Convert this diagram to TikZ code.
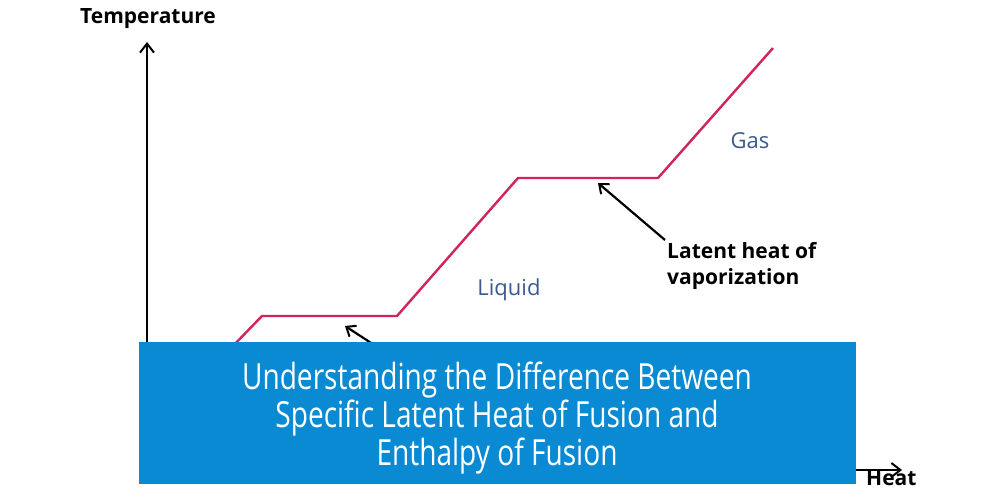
\documentclass[tikz,border=0pt]{standalone}
\usepackage{fontspec}
\setmainfont{Open Sans}
\newfontfamily\bannerfont[FakeStretch=0.78]{Open Sans}
\usetikzlibrary{arrows.meta}
\definecolor{curve}{HTML}{D0245A}
\definecolor{banner}{HTML}{0A8AD2}
\definecolor{lbl}{HTML}{3A5A8C}
\tikzset{axis/.style={line width=2.2pt,-{Straight Barb[length=9pt,width=14pt,line width=2pt]}},
 ptr/.style={line width=2.2pt,-{Straight Barb[length=8pt,width=13pt,line width=2pt]}},
 txt/.style={font=\bfseries\fontsize{21}{26}\selectfont,align=left,inner sep=0pt},
 phase/.style={font=\fontsize{22}{26}\selectfont,text=lbl,inner sep=0pt}}
\begin{document}
\begin{tikzpicture}[x=1pt,y=-1pt]
\useasboundingbox (0,0) rectangle (994,497);
\coordinate (o) at (147,470);
\coordinate (ytop) at (147,42);
\coordinate (xend) at (902,470);
\draw[axis] (o) -- (ytop);
\draw[axis] (o) -- (xend);
\node[txt,anchor=west] (tl) at (80,19) {Temperature};
\node[txt,anchor=west] (hl) at (866,478) {Heat};
\draw[curve,line width=2.4pt] (200,380) -- (262,316) -- (397,316) -- (518,178) -- (658,178) -- (773,48);
\coordinate (a1s) at (665,240); \coordinate (a1e) at (598,183);
\draw[ptr] (a1s) -- (a1e);
\coordinate (a2s) at (385,352); \coordinate (a2e) at (345,326);
\draw[ptr] (a2s) -- (a2e);
\node[phase] (gas) at (750,141) {Gas};
\node[phase] (liq) at (509,290) {Liquid};
\node[txt,anchor=west] (lh) at (667,266) {Latent heat of\\vaporization};
\fill[banner] (139,342) rectangle (856,484);
\node[text=white,align=center,font=\bannerfont\fontsize{36}{38}\selectfont] (title) at (497,418) {Understanding the Difference Between\\Specific Latent Heat of Fusion and\\Enthalpy of Fusion};
\end{tikzpicture}
\end{document}
